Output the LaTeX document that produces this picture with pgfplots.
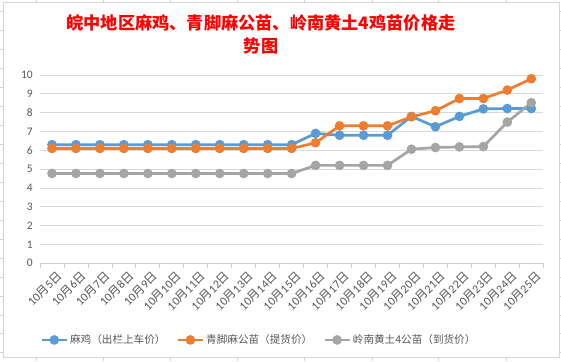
\documentclass[border=0pt]{standalone}
\usepackage{pgfplots}
\pgfplotsset{compat=1.18}
\usepackage{fontspec}
\setmainfont{Carlito}
\newfontfamily\cjk{Noto Sans CJK SC}
\definecolor{cblue}{HTML}{5B9BD5}
\definecolor{corange}{HTML}{ED7D31}
\definecolor{cgray}{HTML}{A5A5A5}
\definecolor{gridc}{HTML}{D9D9D9}
\definecolor{axc}{HTML}{D0D0D0}
\definecolor{tc}{HTML}{595959}
\definecolor{cellc}{HTML}{D4D4D4}
\newcommand\md[1]{10{\cjk 月}#1{\cjk 日}}
\begin{document}
\begin{tikzpicture}
\path[use as bounding box, fill=white] (-40pt,-97.7pt) rectangle (521pt,263.3pt);
% surrounding spreadsheet cell lines
\foreach \x in {36,103,170,237,304,372,438,506} {
  \draw[cellc, line width=0.8pt] ({\x pt-40pt},263.3pt) -- ({\x pt-40pt},261.3pt);
  \draw[cellc, line width=0.8pt] ({\x pt-40pt},-93.7pt) -- ({\x pt-40pt},-97.7pt);
}
\foreach \k in {0,...,18} {
  \draw[cellc, line width=0.8pt] (-40pt,{263.3pt-11.7pt-\k*18.95pt}) -- (-37pt,{263.3pt-11.7pt-\k*18.95pt});
  \draw[cellc, line width=0.8pt] (519pt,{263.3pt-11.7pt-\k*18.95pt}) -- (521pt,{263.3pt-11.7pt-\k*18.95pt});
}
\draw[cellc, line width=0.8pt] (-37pt,-93.7pt) rectangle (519pt,261.3pt);
\node[text=red, font=\fontsize{17.2}{23}\selectfont\cjk\bfseries, align=center] at (221pt,229.3pt)
  {皖中地区麻鸡、青脚麻公苗、岭南黄土4鸡苗价格走\\势图};
\begin{axis}[
  at={(0,0)}, anchor=south west,
  scale only axis, width=503.3pt, height=188.3pt,
  xmin=-0.5, xmax=20.5, ymin=0, ymax=10,
  xtick={0,...,20},
  xticklabels={\md{5},\md{6},\md{7},\md{8},\md{9},\md{10},\md{11},\md{12},\md{13},\md{14},\md{15},\md{16},\md{17},\md{18},\md{19},\md{20},\md{21},\md{22},\md{23},\md{24},\md{25}},
  minor xtick={-0.5,0.5,...,20.5},
  ytick={0,...,10},
  ymajorgrids,
  grid style={draw=gridc, line width=0.75pt},
  axis x line*=bottom, axis y line*=left,
  y axis line style={draw=none},
  x axis line style={draw=axc, line width=0.75pt, -},
  major tick length=0pt,
  minor tick length=5pt,
  tick align=outside,
  minor tick style={draw=axc, line width=0.75pt},
  ytick style={draw=none},
  /pgf/number format/assume math mode=true,
  ticklabel style={text=tc, font=\fontsize{11.5}{13}\selectfont},
  xticklabel style={rotate=45, anchor=east, inner sep=0pt, xshift=-2pt, yshift=-13pt, font=\fontsize{12}{13}\selectfont},
  yticklabel style={anchor=east, inner sep=0pt, xshift=-7pt},
  legend style={at={(0.435,-0.407)}, anchor=center, draw=none, fill=none,
    font=\fontsize{10.6}{12}\selectfont\cjk, text=tc,
    /tikz/every even column/.append style={column sep=9pt},
    inner sep=0pt},
  legend columns=3,
  legend cell align=left,
  legend image code/.code={\draw[mark repeat=2,mark phase=2] plot coordinates {(0pt,0pt)(12.5pt,0pt)(25pt,0pt)};},
  every axis plot/.append style={line width=2.7pt, mark=*, mark size=3.4pt},
]
\addplot[cblue, mark options={fill=cblue, draw=cblue}] coordinates {
(0,6.3)(1,6.3)(2,6.3)(3,6.3)(4,6.3)(5,6.3)(6,6.3)(7,6.3)(8,6.3)(9,6.3)(10,6.3)
(11,6.9)(12,6.8)(13,6.8)(14,6.8)(15,7.8)(16,7.25)(17,7.8)(18,8.2)(19,8.22)(20,8.22)};
\addlegendentry{麻鸡（出栏上车价）}
\addplot[corange, mark options={fill=corange, draw=corange}] coordinates {
(0,6.1)(1,6.1)(2,6.1)(3,6.1)(4,6.1)(5,6.1)(6,6.1)(7,6.1)(8,6.1)(9,6.1)(10,6.1)
(11,6.4)(12,7.3)(13,7.3)(14,7.3)(15,7.78)(16,8.1)(17,8.75)(18,8.75)(19,9.2)(20,9.8)};
\addlegendentry{青脚麻公苗（提货价）}
\addplot[cgray, mark options={fill=cgray, draw=cgray}] coordinates {
(0,4.77)(1,4.77)(2,4.77)(3,4.77)(4,4.77)(5,4.77)(6,4.77)(7,4.77)(8,4.77)(9,4.77)(10,4.77)
(11,5.2)(12,5.2)(13,5.2)(14,5.2)(15,6.06)(16,6.15)(17,6.18)(18,6.2)(19,7.5)(20,8.53)};
\addlegendentry{岭南黄土4公苗（到货价）}
\end{axis}
\end{tikzpicture}
\end{document}
